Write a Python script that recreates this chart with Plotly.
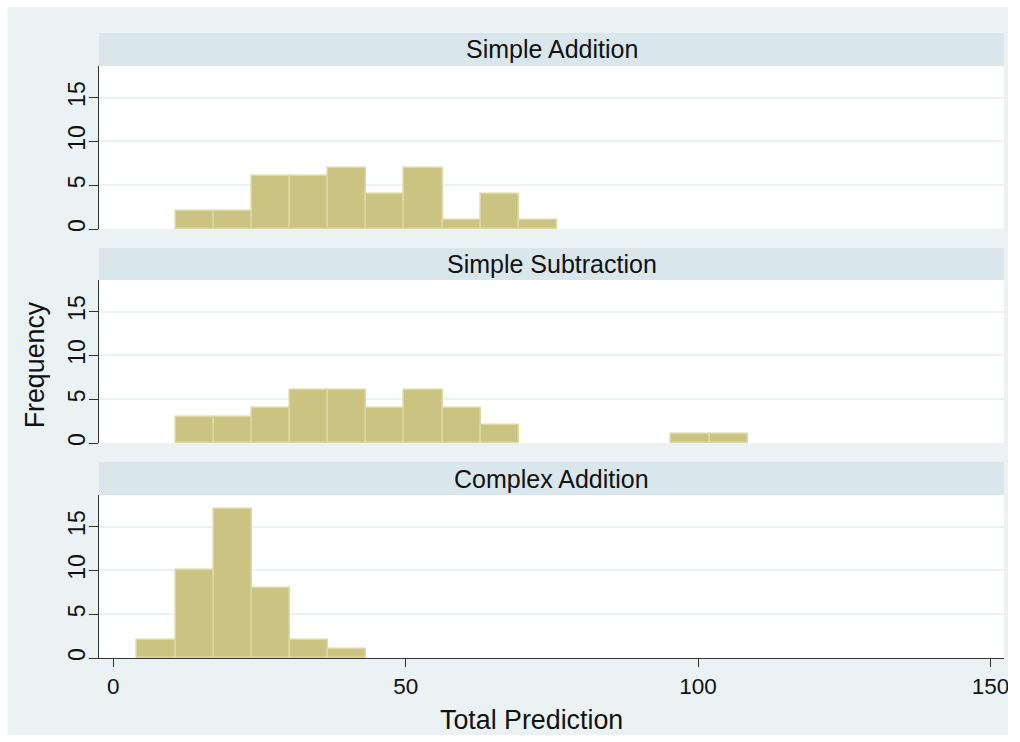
import plotly.graph_objects as go

# ---- data ----
panels = ["Simple Addition", "Simple Subtraction", "Complex Addition"]
bin_start = 4.15
bin_width = 6.52
counts_simple_addition = [0, 2, 2, 6, 6, 7, 4, 7, 1, 4, 1, 0, 0, 0, 0, 0]
counts_simple_subtraction = [0, 3, 3, 4, 6, 6, 4, 6, 4, 2, 0, 0, 0, 0, 1, 1]
counts_complex_addition = [2, 10, 17, 8, 2, 1, 0, 0, 0, 0, 0, 0, 0, 0, 0, 0]
x_ticks = [0, 50, 100, 150]
y_ticks = [0, 5, 10, 15]

all_counts = [counts_simple_addition, counts_simple_subtraction, counts_complex_addition]

W, H = 1020, 742
ml, mr, mt, mb = 99, 11, 33, 84
pw = W - ml - mr
ph = H - mt - mb

def py(px):
    return (H - mb - px) / ph

def pxx(px):
    return (px - ml) / pw

# plot areas (pixel top, bottom) and header (top, bottom)
plot_px = [(66, 229), (280, 443), (495, 658)]
head_px = [(33, 66), (248, 280), (462, 495)]

FONT = "Liberation Sans, Arial, sans-serif"
BAR_FILL = "#CBC382"
BAR_EDGE = "#DCD8A2"
GRID = "#EAF2F3"
BG = "#EAF2F3"
HEAD = "#D9E6EB"
AXC = "#333333"

fig = go.Figure()
layout = dict()
shapes = []
annotations = []

for i, (name, cnts) in enumerate(zip(panels, all_counts)):
    xs = [bin_start + bin_width * (k + 0.5) for k, c in enumerate(cnts) if c > 0]
    ys = [c for c in cnts if c > 0]
    ax = "" if i == 0 else str(i + 1)
    fig.add_trace(go.Bar(
        x=xs, y=ys, width=bin_width,
        marker=dict(color=BAR_FILL, line=dict(color=BAR_EDGE, width=1.6)),
        xaxis="x" + ax, yaxis="y" + ax, showlegend=False,
        hovertemplate="%{y}<extra></extra>",
    ))
    top, bot = plot_px[i]
    last = i == len(panels) - 1
    layout["xaxis" + ax] = dict(
        domain=[0, 1], anchor="y" + ax, range=[-2.43, 152.3],
        showgrid=False, zeroline=False,
        showticklabels=last, ticks="outside" if last else "",
        tickvals=x_ticks, ticklen=8, tickwidth=1.3, tickcolor=AXC,
        showline=last, linecolor=AXC, linewidth=1.3,
        tickfont=dict(family=FONT, size=22.5, color="#111111"),
        matches=None if i == 0 else "x",
    )
    layout["yaxis" + ax] = dict(
        domain=[py(bot), py(top)], anchor="x" + ax, range=[0, 18.6],
        tickvals=y_ticks, ticks="outside", ticklen=9, tickwidth=1.3, tickcolor=AXC,
        showline=True, linecolor=AXC, linewidth=1.3,
        showgrid=True, gridcolor=GRID, gridwidth=1.5, zeroline=False,
        tickangle=-90, ticklabelstandoff=-5,
        tickfont=dict(family=FONT, size=23, color="#111111"),
    )
    ht, hb = head_px[i]
    shapes.append(dict(type="rect", xref="paper", yref="paper",
                       x0=0, x1=1, y0=py(hb), y1=py(ht),
                       fillcolor=HEAD, line=dict(width=0), layer="below"))
    annotations.append(dict(text=name, xref="paper", yref="paper",
                            x=pxx(554), y=py((ht + hb) / 2), showarrow=False,
                            xanchor="center", yanchor="middle",
                            font=dict(family=FONT, size=25, color="#111111")))

# white outer frame
shapes.append(dict(type="rect", xref="paper", yref="paper",
                   x0=pxx(0), x1=pxx(W), y0=py(H), y1=py(0),
                   fillcolor="rgba(0,0,0,0)", line=dict(color="white", width=14),
                   layer="above"))

annotations.append(dict(text="Total Prediction", xref="paper", yref="paper",
                        x=pxx(534), y=py(720), showarrow=False,
                        xanchor="center", yanchor="middle",
                        font=dict(family=FONT, size=26.8, color="#111111")))
annotations.append(dict(text="Frequency", xref="paper", yref="paper",
                        x=pxx(35), y=py(365), showarrow=False, textangle=-90,
                        xanchor="center", yanchor="middle",
                        font=dict(family=FONT, size=26.8, color="#111111")))

fig.update_layout(
    width=W, height=H,
    margin=dict(l=ml, r=mr, t=mt, b=mb),
    paper_bgcolor=BG, plot_bgcolor="white",
    bargap=0, shapes=shapes, annotations=annotations,
    **layout,
)

fig.write_html("out.html")
